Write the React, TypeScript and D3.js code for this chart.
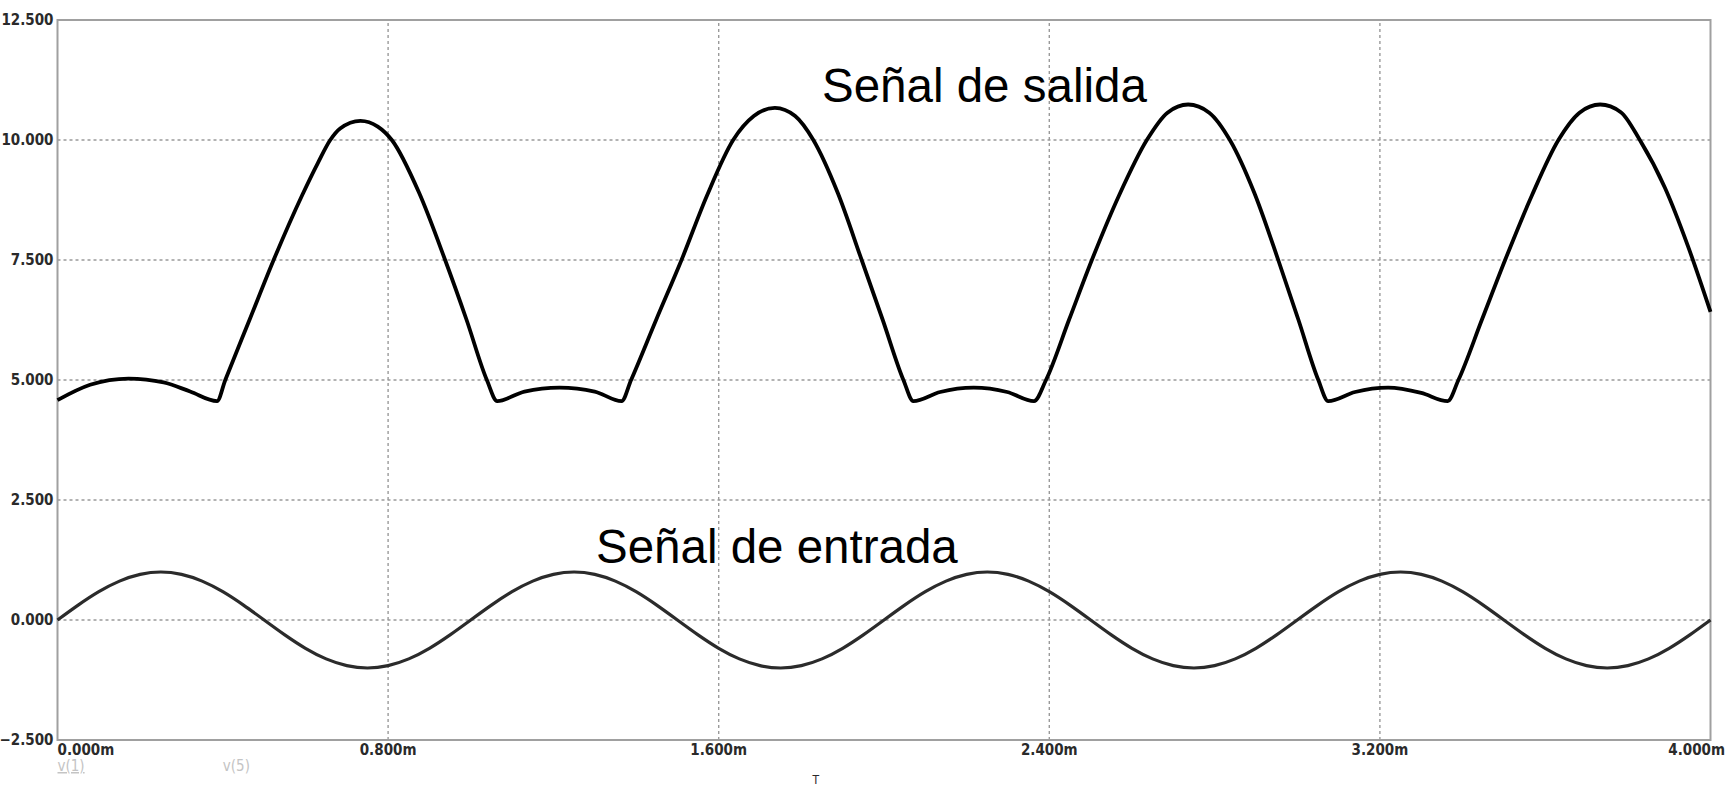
import React, {useEffect, useRef} from 'react';
import * as d3 from 'd3';

// time axis in ms, voltage axis in V
const xTicks = [0, 0.8, 1.6, 2.4, 3.2, 4.0];
const xTickLabels = ['0.000m', '0.800m', '1.600m', '2.400m', '3.200m', '4.000m'];
const yTicks = [-2.5, 0, 2.5, 5, 7.5, 10, 12.5];
const yTickLabels = ['\u22122.500', '0.000', '2.500', '5.000', '7.500', '10.000', '12.500'];

// v(1): entrada, sampled every 0.05 ms
const inputStep = 0.05;
const inputVolts = [
  0, 0.31, 0.59, 0.81, 0.95, 1.0, 0.95, 0.81, 0.59, 0.31,
  0, -0.31, -0.59, -0.81, -0.95, -1.0, -0.95, -0.81, -0.59, -0.31,
  0, 0.31, 0.59, 0.81, 0.95, 1.0, 0.95, 0.81, 0.59, 0.31,
  0, -0.31, -0.59, -0.81, -0.95, -1.0, -0.95, -0.81, -0.59, -0.31,
  0, 0.31, 0.59, 0.81, 0.95, 1.0, 0.95, 0.81, 0.59, 0.31,
  0, -0.31, -0.59, -0.81, -0.95, -1.0, -0.95, -0.81, -0.59, -0.31,
  0, 0.31, 0.59, 0.81, 0.95, 1.0, 0.95, 0.81, 0.59, 0.31,
  0, -0.31, -0.59, -0.81, -0.95, -1.0, -0.95, -0.81, -0.59, -0.31,
  0
];

// v(5): salida
const outputTime = [
  0.000, 0.079, 0.172, 0.257, 0.321, 0.386,
  0.406, 0.465, 0.523, 0.592, 0.630, 0.660, 0.684, 0.733,
  0.775, 0.809, 0.875, 0.938, 0.990, 1.039, 1.064,
  1.130, 1.215, 1.300, 1.365,
  1.388, 1.449, 1.510, 1.572, 1.635, 1.685, 1.736,
  1.785, 1.829, 1.888, 1.946, 1.997, 2.047, 2.071,
  2.136, 2.217, 2.298, 2.363,
  2.392, 2.448, 2.503, 2.569, 2.636, 2.686, 2.736,
  2.787, 2.837, 2.896, 2.954, 3.003, 3.051, 3.075,
  3.140, 3.220, 3.300, 3.364,
  3.390, 3.447, 3.503, 3.568, 3.632, 3.683, 3.733,
  3.783, 3.829, 3.890, 3.945, 4.000
];
const outputVolts = [
  4.58, 4.90, 5.03, 4.95, 4.76, 4.56,
  5.00, 6.26, 7.50, 8.85, 9.52, 10.00, 10.24, 10.40,
  10.28, 10.00, 8.90, 7.50, 6.25, 5.00, 4.56,
  4.76, 4.84, 4.76, 4.56,
  5.00, 6.26, 7.50, 8.85, 10.00, 10.50, 10.67,
  10.50, 10.00, 8.90, 7.50, 6.25, 5.00, 4.56,
  4.75, 4.84, 4.75, 4.56,
  5.00, 6.26, 7.50, 8.85, 10.00, 10.57, 10.74,
  10.57, 10.00, 8.90, 7.50, 6.25, 5.00, 4.56,
  4.75, 4.84, 4.73, 4.56,
  5.00, 6.26, 7.50, 8.85, 10.00, 10.57, 10.74,
  10.58, 10.00, 9.00, 7.80, 6.42
];

const annotations = [
  {text: 'Señal de salida', t: 1.85, v: 10.8},
  {text: 'Señal de entrada', t: 1.303, v: 1.19}
];

const W = 1727;
const H = 786;
const margin = {top: 20, right: 16.5, bottom: 46, left: 57.5};

const tickFont = '"Liberation Sans Narrow", "DejaVu Sans Condensed", sans-serif';

const App = () => {
  const ref = useRef<SVGSVGElement>(null);

  useEffect(() => {
    if (!ref.current) return;
    const svg = d3.select(ref.current);
    svg.selectAll('*').remove();

    const x = d3.scaleLinear().domain([0, 4]).range([margin.left, W - margin.right]);
    const y = d3.scaleLinear().domain([-2.5, 12.5]).range([H - margin.bottom, margin.top]);

    svg.append('rect').attr('width', W).attr('height', H).attr('fill', '#fff');

    // dashed grid
    svg.append('g').selectAll('line')
      .data(yTicks.slice(1, -1))
      .enter().append('line')
      .attr('x1', x(0)).attr('x2', x(4))
      .attr('y1', d => y(d)).attr('y2', d => y(d))
      .attr('stroke', '#9a9a9a').attr('stroke-width', 1.4)
      .attr('stroke-dasharray', '3,3');

    svg.append('g').selectAll('line')
      .data(xTicks.slice(1, -1))
      .enter().append('line')
      .attr('y1', y(-2.5)).attr('y2', y(12.5))
      .attr('x1', d => x(d)).attr('x2', d => x(d))
      .attr('stroke', '#9a9a9a').attr('stroke-width', 1.4)
      .attr('stroke-dasharray', '3,3');

    // frame
    svg.append('rect')
      .attr('x', x(0)).attr('y', y(12.5))
      .attr('width', x(4) - x(0)).attr('height', y(-2.5) - y(12.5))
      .attr('fill', 'none').attr('stroke', '#a0a0a0').attr('stroke-width', 2);

    // y tick labels
    svg.append('g').selectAll('text')
      .data(yTicks)
      .enter().append('text')
      .attr('x', x(0) - 4)
      .attr('y', d => y(d))
      .attr('dy', '0.36em')
      .attr('text-anchor', 'end')
      .style('font-family', tickFont)
      .style('font-size', '15px')
      .style('font-weight', 'bold')
      .attr('fill', '#2a2a2a')
      .text((d, i) => yTickLabels[i]);

    // x tick labels
    svg.append('g').selectAll('text')
      .data(xTicks)
      .enter().append('text')
      .attr('x', (d, i) => i === xTicks.length - 1 ? W - 2 : x(d))
      .attr('y', y(-2.5) + 15)
      .attr('text-anchor', (d, i) => i === 0 ? 'start' : i === xTicks.length - 1 ? 'end' : 'middle')
      .style('font-family', tickFont)
      .style('font-size', '15px')
      .style('font-weight', 'bold')
      .attr('fill', '#2a2a2a')
      .text((d, i) => xTickLabels[i]);

    // trace names and axis name
    svg.append('text')
      .attr('x', x(0)).attr('y', y(-2.5) + 31)
      .style('font-family', tickFont).style('font-size', '15px')
      .style('text-decoration', 'underline')
      .attr('fill', '#c4c4c4')
      .text('v(1)');
    svg.append('text')
      .attr('x', x(0.4)).attr('y', y(-2.5) + 31)
      .style('font-family', tickFont).style('font-size', '15px')
      .attr('fill', '#c4c4c4')
      .text('v(5)');
    svg.append('text')
      .attr('x', x(1.835)).attr('y', H - 2)
      .attr('text-anchor', 'middle')
      .style('font-family', tickFont).style('font-size', '12px')
      .attr('fill', '#2a2a2a')
      .text('T');

    // traces
    const inputLine = d3.line<number>()
      .x((d, i) => x(i * inputStep))
      .y(d => y(d))
      .curve(d3.curveNatural);

    const outputLine = d3.line<number>()
      .x((d, i) => x(outputTime[i]))
      .y(d => y(d))
      .curve(d3.curveMonotoneX);

    svg.append('path')
      .datum(inputVolts)
      .attr('d', inputLine)
      .attr('fill', 'none')
      .attr('stroke', '#2b2b2b')
      .attr('stroke-width', 3.2)
      .attr('stroke-linejoin', 'round');

    svg.append('path')
      .datum(outputVolts)
      .attr('d', outputLine)
      .attr('fill', 'none')
      .attr('stroke', '#000')
      .attr('stroke-width', 3.8)
      .attr('stroke-linejoin', 'round');

    // labels
    svg.append('g').selectAll('text')
      .data(annotations)
      .enter().append('text')
      .attr('x', d => x(d.t))
      .attr('y', d => y(d.v))
      .style('font-family', '"Liberation Sans", Arial, sans-serif')
      .style('font-size', '47.5px')
      .attr('fill', '#000')
      .text(d => d.text);
  }, []);

  return (
    <div style={{position: 'absolute', left: 0, top: 0}}>
      <svg ref={ref} width={W} height={H} style={{display: 'block'}} />
    </div>
  );
};

export default App;
